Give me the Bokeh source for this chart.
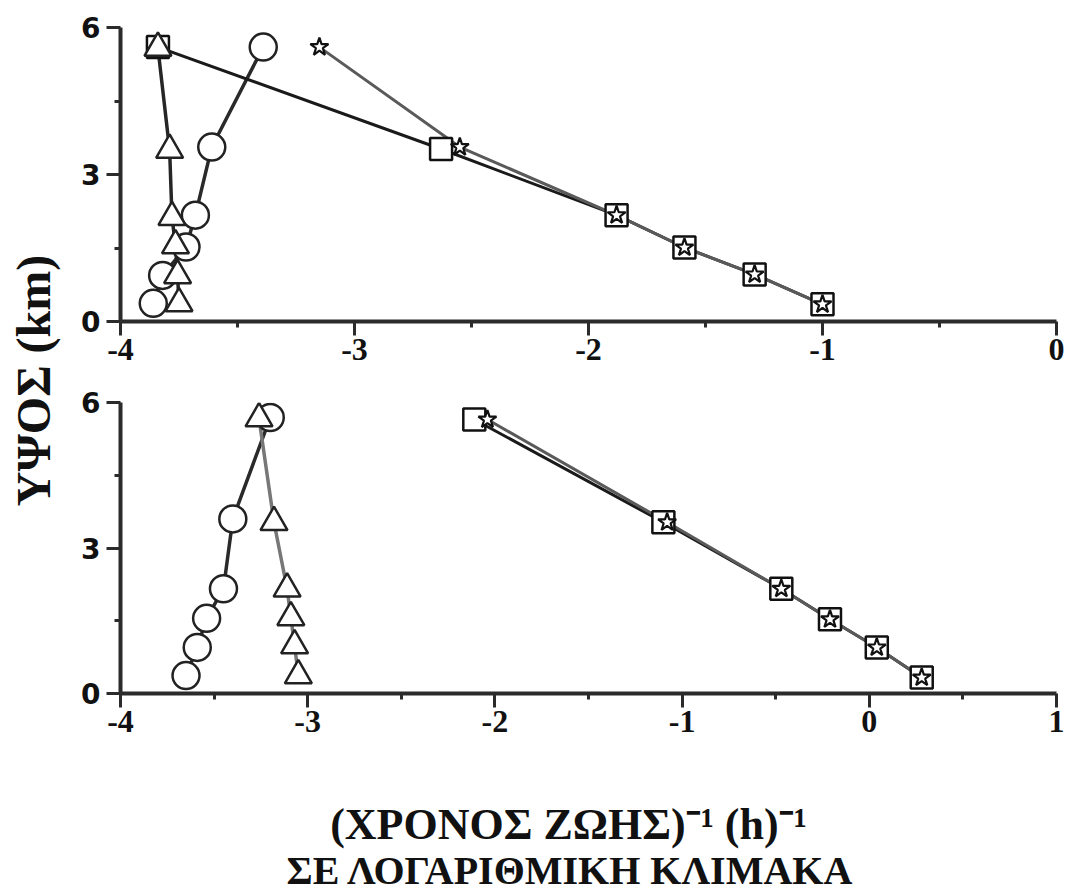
import math
from bokeh.plotting import figure
from bokeh.models import Range1d, FixedTicker
from bokeh.layouts import row, column
from bokeh.core.properties import value
from bokeh.embed import file_html
from bokeh.resources import INLINE

# ---------------- data ----------------
# top panel
top_circle_x = [-3.86, -3.82, -3.72, -3.68, -3.61, -3.39]
top_circle_y = [0.37, 0.94, 1.52, 2.17, 3.56, 5.60]
top_tri_x = [-3.75, -3.756, -3.765, -3.78, -3.79, -3.84]
top_tri_y = [0.37, 0.94, 1.55, 2.13, 3.50, 5.58]
top_sq_x = [-1.00, -1.29, -1.59, -1.88, -2.63, -3.84]
top_sq_y = [0.35, 0.96, 1.51, 2.17, 3.52, 5.60]
top_star_x = [-1.00, -1.29, -1.59, -1.88, -2.55, -3.15]
top_star_y = [0.35, 0.96, 1.51, 2.17, 3.56, 5.60]

# bottom panel
bot_circle_x = [-3.65, -3.59, -3.54, -3.45, -3.40, -3.20]
bot_circle_y = [0.37, 0.95, 1.55, 2.16, 3.60, 5.69]
bot_tri_x = [-3.05, -3.07, -3.09, -3.11, -3.18, -3.26]
bot_tri_y = [0.37, 0.99, 1.57, 2.16, 3.53, 5.67]
bot_sq_x = [0.28, 0.04, -0.21, -0.47, -1.10, -2.11]
bot_sq_y = [0.33, 0.95, 1.53, 2.16, 3.53, 5.65]
bot_star_x = [0.28, 0.04, -0.21, -0.47, -1.08, -2.04]
bot_star_y = [0.33, 0.95, 1.53, 2.16, 3.53, 5.65]

y_ticks = [0, 3, 6]
y_minor = [1.5, 4.5]
top_x_ticks = [-4, -3, -2, -1, 0]
top_x_minor = [-3.5, -2.5, -1.5, -0.5]
bot_x_ticks = [-4, -3, -2, -1, 0, 1]
bot_x_minor = [-3.5, -2.5, -1.5, -0.5, 0.5]

y_title = "ΥΨΟΣ (km)"
x_title_1 = "(ΧΡΟΝΟΣ ΖΩΗΣ)⁻¹ (h)⁻¹"
x_title_2 = "ΣΕ ΛΟΓΑΡΙΘΜΙΚΗ ΚΛΙΜΑΚΑ"

SERIF = "Liberation Serif"
SANS = "DejaVu Sans"
AX = "#2b2b2b"


def make_panel(xr, xt, xm, frame_h, mb_bottom):
    p = figure(frame_width=936, frame_height=frame_h,
               x_range=Range1d(*xr), y_range=Range1d(0, 6),
               output_backend="svg", toolbar_location=None,
               min_border_left=50, min_border_right=9,
               min_border_top=27, min_border_bottom=mb_bottom,
               background_fill_color="white", border_fill_color="white")
    p.grid.visible = False
    p.outline_line_color = None
    p.xaxis.ticker = FixedTicker(ticks=xt, minor_ticks=xm)
    p.xaxis.major_label_overrides = {t: str(t) for t in xt}
    p.yaxis.ticker = FixedTicker(ticks=y_ticks, minor_ticks=y_minor)
    for ax in p.axis:
        ax.axis_line_width = 4
        ax.axis_line_color = AX
        ax.major_tick_line_width = 3
        ax.major_tick_line_color = AX
        ax.major_tick_in = 0
        ax.major_tick_out = 14
        ax.minor_tick_line_width = 3
        ax.minor_tick_line_color = AX
        ax.minor_tick_in = 0
        ax.minor_tick_out = 6
    p.xaxis.major_label_text_font = SERIF
    p.xaxis.major_label_text_font_style = "bold"
    p.xaxis.major_label_text_font_size = "32px"
    p.xaxis.major_label_text_color = "#111111"
    p.xaxis.major_label_standoff = 3
    p.yaxis.major_label_text_font = SANS
    p.yaxis.major_label_text_font_style = "bold"
    p.yaxis.major_label_text_font_size = "28px"
    p.yaxis.major_label_text_color = "#111111"
    p.yaxis.major_label_standoff = 6
    return p


def draw(p, cx, cy, tx, ty, sx, sy, stx, sty, tri_line):
    # lines
    p.line(cx, cy, line_color="#2a2a2a", line_width=3.5)
    p.line(sx, sy, line_color="#1a1a1a", line_width=3)
    p.line(stx, sty, line_color="#5a5a5a", line_width=3)
    p.line(tx, ty, line_color=tri_line, line_width=3.5)
    # markers
    p.scatter(cx, cy, marker="circle", size=27, fill_color="white",
              line_color="#222222", line_width=2.5)
    p.scatter(sx, sy, marker="square", size=22, fill_color="white",
              line_color="#111111", line_width=2.5)
    p.scatter(tx, ty, marker="triangle", size=27, fill_color="white",
              line_color="#222222", line_width=2.5)
    p.scatter(stx, sty, marker="star", size=19, fill_color="white",
              line_color="#111111", line_width=2.2)


top = make_panel((-4, 0), top_x_ticks, top_x_minor, 294, 54)
draw(top, top_circle_x, top_circle_y, top_tri_x, top_tri_y,
     top_sq_x, top_sq_y, top_star_x, top_star_y, "#262626")

bot = make_panel((-4, 1), bot_x_ticks, bot_x_minor, 291, 67)
draw(bot, bot_circle_x, bot_circle_y, bot_tri_x, bot_tri_y,
     bot_sq_x, bot_sq_y, bot_star_x, bot_star_y, "#777777")

# x title (two lines) in a strip figure below the bottom panel
TW, TH = 936, 133
title = figure(frame_width=TW, frame_height=TH, x_range=Range1d(0, TW),
               y_range=Range1d(TH, 0), output_backend="svg",
               toolbar_location=None, min_border=0,
               min_border_left=50, min_border_right=9,
               background_fill_color="white", border_fill_color="white")
title.axis.visible = False
title.grid.visible = False
title.outline_line_color = None
title.text(x=[448], y=[64], text=[x_title_1],
           text_align="center", text_baseline="middle",
           text_font=value(SERIF), text_font_style="bold",
           text_font_size="44px", text_color="#111111")
title.text(x=[450], y=[110], text=[x_title_2],
           text_align="center", text_baseline="middle",
           text_font=value(SERIF), text_font_style="bold",
           text_font_size="40px", text_color="#111111")

# y title in a narrow side figure
side = figure(frame_width=70, frame_height=893, x_range=Range1d(0, 70),
              y_range=Range1d(893, 0), output_backend="svg",
              toolbar_location=None, min_border=0,
              background_fill_color="white", border_fill_color="white")
side.axis.visible = False
side.grid.visible = False
side.outline_line_color = None
side.text(x=[33], y=[380], text=[y_title], angle=math.pi / 2,
          text_align="center", text_baseline="middle",
          text_font=value(SERIF), text_font_style="bold",
          text_font_size="48px", text_color="#111111")

layout = row(side, column(top, bot, title))

open("out.html", "w").write(file_html(layout, INLINE))
